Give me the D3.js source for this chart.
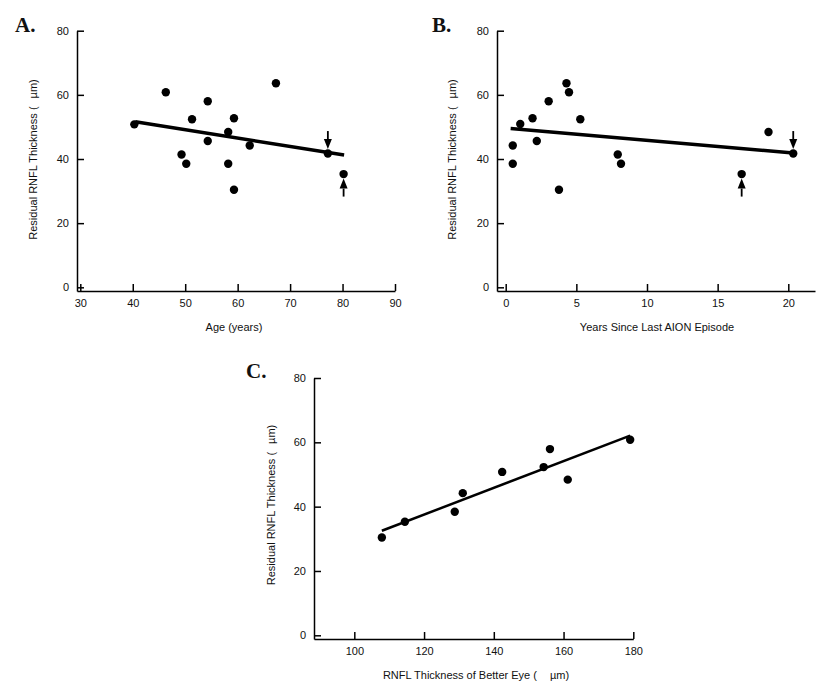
<!DOCTYPE html>
<html>
<head>
<meta charset="utf-8">
<script src="https://cdn.jsdelivr.net/npm/d3@7"></script>
<style>
  body { margin: 0; background: #fff; }
  text { font-family: "Liberation Sans", Arial, sans-serif; fill: #111; }
  .panel-label { font-family: "Liberation Serif", "Times New Roman", serif; font-weight: bold; font-size: 21px; }
</style>
</head>
<body>
<svg id="chart" width="825" height="690"></svg>
<script>
// Panel A: age vs residual RNFL thickness
const ageYears = [40.3, 46.3, 49.3, 50.2, 51.3, 54.3, 54.3, 58.2, 58.2, 59.3, 59.3, 62.3, 67.3, 77.2, 80.2];
const ageRnfl  = [50.8, 60.8, 41.4, 38.5, 52.4, 58.0, 45.6, 48.4, 38.5, 52.7, 30.4, 44.2, 63.6, 41.7, 35.3];
const ageFit   = [[40.5, 51.6], [80.3, 41.25]];
const ageTicks = [30, 40, 50, 60, 70, 80, 90];

// Panel B: years since last AION episode
const yearsSince = [0.5, 0.5, 1.03, 1.9, 2.2, 3.04, 3.77, 4.3, 4.48, 5.28, 7.93, 8.16, 16.7, 18.6, 20.35];
const yearsRnfl  = [44.2, 38.5, 50.9, 52.7, 45.6, 58.0, 30.4, 63.6, 60.8, 52.4, 41.4, 38.5, 35.3, 48.4, 41.7];
const yearsFit   = [[0.35, 49.5], [20.35, 41.9]];
const yearsTicks = [0, 5, 10, 15, 20];

// Panel C: RNFL thickness of better eye
const betterEye     = [107.9, 114.5, 128.8, 131.1, 142.4, 154.3, 156.1, 161.2, 179.1];
const betterEyeRnfl = [30.4, 35.3, 38.4, 44.2, 50.8, 52.3, 57.9, 48.4, 60.8];
const betterEyeFit  = [[107.9, 32.5], [179.1, 62.1]];
const betterEyeTicks = [100, 120, 140, 160, 180];

const rnflTicks = [0, 20, 40, 60, 80];

// arrows marking the two highlighted eyes: [x, y, direction]
const ageArrows   = [[77.2, 41.7, "down"], [80.2, 35.3, "up"]];
const yearsArrows = [[20.35, 41.7, "down"], [16.7, 35.3, "up"]];

const svg = d3.select("#chart");
svg.append("rect").attr("width", 825).attr("height", 690).attr("fill", "#fff");

const panels = [
  { label: "A.", labelPos: [15, 32], xs: ageYears, ys: ageRnfl, fit: ageFit, xTicks: ageTicks,
    xDomain: [29.37, 90], xRange: [77, 395], yRange: [291, 30.7],
    xTitle: "Age (years)", xTitlePos: [234, 331], xTitleMu: false,
    yTitlePos: [37, 159.5], arrows: ageArrows, fitWidth: 3.5 },
  { label: "B.", labelPos: [432, 32], xs: yearsSince, ys: yearsRnfl, fit: yearsFit, xTicks: yearsTicks,
    xDomain: [-0.616, 21.89], xRange: [497, 815], yRange: [291, 30.7],
    xTitle: "Years Since Last AION Episode", xTitlePos: [657, 331], xTitleMu: false,
    yTitlePos: [456, 159.5], arrows: yearsArrows, fitWidth: 3.5 },
  { label: "C.", labelPos: [246, 378], xs: betterEye, ys: betterEyeRnfl, fit: betterEyeFit, xTicks: betterEyeTicks,
    xDomain: [88.44, 180], xRange: [314, 633.3], yRange: [639, 378],
    xTitle: "RNFL Thickness of Better Eye (", xTitlePos: [476, 679], xTitleMu: true,
    yTitlePos: [275, 505], arrows: [], fitWidth: 2.5 }
];

panels.forEach(p => {
  const x = d3.scaleLinear().domain(p.xDomain).range(p.xRange);
  const y = d3.scaleLinear().domain([-1.15, 80]).range(p.yRange);
  const g = svg.append("g");

  // axes, ticks pointing inward
  const xAxis = g.append("g")
    .attr("transform", `translate(0,${p.yRange[0]})`)
    .call(d3.axisBottom(x).tickValues(p.xTicks).tickSizeInner(-7).tickSizeOuter(0).tickPadding(8));
  const yAxis = g.append("g")
    .attr("transform", `translate(${p.xRange[0]},0)`)
    .call(d3.axisLeft(y).tickValues(rnflTicks).tickSizeInner(-7).tickSizeOuter(0).tickPadding(8));

  [xAxis, yAxis].forEach(a => {
    a.select(".domain").attr("stroke", "#000").attr("stroke-width", 1.5);
    a.selectAll(".tick line").attr("stroke", "#000").attr("stroke-width", 1.5);
    a.selectAll(".tick text").attr("font-size", 11).attr("fill", "#111")
      .attr("font-family", "Liberation Sans, Arial, sans-serif");
  });

  // regression line
  g.append("line")
    .attr("x1", x(p.fit[0][0])).attr("y1", y(p.fit[0][1]))
    .attr("x2", x(p.fit[1][0])).attr("y2", y(p.fit[1][1]))
    .attr("stroke", "#000").attr("stroke-width", p.fitWidth);

  // points
  g.selectAll("circle.pt")
    .data(p.xs.map((v, i) => [v, p.ys[i]]))
    .enter().append("circle")
      .attr("class", "pt")
      .attr("cx", d => x(d[0]))
      .attr("cy", d => y(d[1]))
      .attr("r", 4.2)
      .attr("fill", "#000");

  // arrows
  p.arrows.forEach(a => {
    const cx = x(a[0]), cy = y(a[1]);
    const s = a[2] === "down" ? -1 : 1;       // which side of the point
    const tip = cy + s * 4.5;
    const tail = tip + s * 18;
    const base = tip + s * 10;
    g.append("line")
      .attr("x1", cx).attr("y1", tail).attr("x2", cx).attr("y2", base)
      .attr("stroke", "#000").attr("stroke-width", 1.8);
    g.append("path")
      .attr("d", `M${cx},${tip}L${cx - 4},${base}L${cx + 4},${base}Z`)
      .attr("fill", "#000");
  });

  // titles
  const xt = g.append("text")
    .attr("x", p.xTitlePos[0]).attr("y", p.xTitlePos[1])
    .attr("text-anchor", "middle").attr("font-size", 11)
    .text(p.xTitle);
  if (p.xTitleMu) xt.append("tspan").attr("dx", 13).text("µm)");

  const yt = g.append("text")
    .attr("transform", `translate(${p.yTitlePos[0]},${p.yTitlePos[1]}) rotate(-90)`)
    .attr("text-anchor", "middle").attr("font-size", 11)
    .text("Residual RNFL Thickness (");
  yt.append("tspan").attr("dx", 8).text("µm)");

  svg.append("text")
    .attr("class", "panel-label")
    .attr("x", p.labelPos[0]).attr("y", p.labelPos[1])
    .text(p.label);
});
</script>
</body>
</html>
